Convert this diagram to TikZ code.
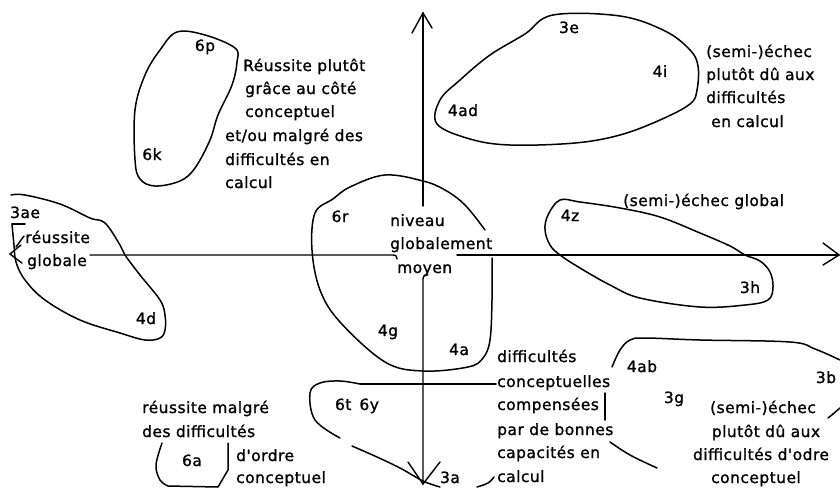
\documentclass[tikz,border=0pt]{standalone}
\usepackage{fontspec}
\newfontfamily\handfont[LetterSpace=3,FakeBold=1.2]{DejaVu Sans}
\begin{document}
\begin{tikzpicture}[x=1pt,y=-1pt,
  sk/.style={line width=1.5pt, line cap=round, line join=round},
  ax/.style={line width=1.4pt, line cap=round},
  txt/.style={font=\handfont\fontsize{15.5}{18}\selectfont, inner sep=0pt, anchor=base west},
  txtc/.style={txt, anchor=base},
  num/.style={txt, anchor=base}]
\useasboundingbox (0,0) rectangle (840,487);

% ---- axes ----
\coordinate (vtop) at (423,13);
\coordinate (vtopend) at (423,206);
\coordinate (vbotstart) at (423,279);
\coordinate (vbot) at (423,484);
\coordinate (hleft) at (10,254);
\coordinate (hl1) at (90,255);
\coordinate (hl2) at (393,255);
\coordinate (hr1) at (457,255);
\coordinate (hright) at (839,255);
\draw[ax] (vtop) -- (vtopend);
\draw[ax] (412,33) -- (vtop) -- (432,28);
\draw[ax] (428,275) .. controls (424,275) .. (vbotstart) -- (vbot);
\draw[ax] (408,462) -- (vbot) -- (440,462);
\draw[ax] (hl1) -- (hl2) .. controls (396,255) .. (397,259);
\draw[ax] (hr1) -- (hright);
\draw[ax] (823,243) -- (hright) -- (823,265);
\draw[ax] (21,245) -- (hleft) -- (22,263);

% ---- blob 6p / 6k ----
\draw[sk] plot[smooth cycle, tension=0.6] coordinates {(177,32) (205,35) (235,48) (237,62) (232,85) (218,115) (210,140) (195,168) (180,181) (155,186) (140,179) (135,160) (135,110) (145,75) (160,50)};

% ---- blob 3e / 4i / 4ad ----
\draw[sk] plot[smooth cycle, tension=0.6] coordinates {(553,15) (620,16) (665,31) (690,50) (698,66) (697,90) (690,104) (660,120) (620,135) (575,143) (510,145) (470,139) (437,124) (440,100) (460,80) (490,55) (525,34)};

% ---- central blob ----
\draw[sk] plot[smooth, tension=0.6] coordinates {(492,258) (492,300) (490,340) (483,358) (468,367) (423,371) (385,362) (340,322) (320,290) (312,250) (315,213) (333,199) (350,187) (385,175) (423,181) (445,190) (465,205) (485,230)};

% ---- blob 6t 6y ----
\draw[sk] (496,384) -- (360,384);
\draw[sk] plot[smooth, tension=0.6] coordinates {(360,384) (340,381) (320,383) (310,393) (315,420) (340,438)};
\draw[sk] plot[smooth, tension=0.6] coordinates {(352,446) (377,457) (400,468) (423,481) (440,487)};
\draw[sk] plot[smooth, tension=0.6] coordinates {(477,487) (488,483) (494,477)};

% ---- left blob 3ae / 4d ----
\draw[sk] (25,224) -- (12,224);
\draw[sk] plot[smooth, tension=0.6] coordinates {(12,224) (14,245) (16,262) (25,280) (45,300) (80,320) (120,333) (145,340) (160,338) (165,330) (165,315) (160,300) (140,275) (125,255) (120,245) (105,223) (90,218) (60,204) (25,195) (11,195)};
\draw[sk] (16,247) -- (24,236);

% ---- blob 4z / 3h ----
\draw[sk] plot[smooth cycle, tension=0.6] coordinates {(560,200) (580,202) (620,208) (660,217) (700,233) (730,246) (745,255) (760,261) (770,272) (773,287) (768,300) (745,305) (700,307) (640,298) (610,285) (580,268) (560,255) (550,245) (545,230) (548,215)};

% ---- blob 4ab / 3b / 3g ----
\draw[sk] plot[smooth, tension=0.6] coordinates {(612,367) (620,350) (630,340) (645,338) (700,340) (790,342) (815,349) (840,360)};
\draw[sk] (828,418) -- (833,414) -- (840,408);
\draw[sk] plot[smooth, tension=0.6] coordinates {(610,442) (630,455) (657,468)};
\draw[sk] (605,393) -- (605,420);

% ---- bracket 6a ----
\draw[sk] plot[smooth, tension=0.6] coordinates {(162,443) (156,465) (160,480) (168,486)};
\draw[sk] (168,486) -- (218,487) -- (228,470) -- (228,443);

% ---- small labels ----
\node[num] (n6p) at (205,51) {6p};
\node[num] (n6k) at (152,160) {6k};
\node[num] (n3e) at (569,33) {3e};
\node[num] (n4i) at (660,77) {4i};
\node[num] (n4ad) at (463,116) {4ad};
\node[num] (n6r) at (340,222) {6r};
\node[num] (n4g) at (388,336) {4g};
\node[num] (n4a) at (459,355) {4a};
\node[txt] (n3ae) at (10,218) {3ae};
\node[num] (n4d) at (146,324) {4d};
\node[num] (n4z) at (570,221) {4z};
\node[num] (n3h) at (750,293) {3h};
\node[num] (n4ab) at (642,372) {4ab};
\node[num] (n3b) at (826,383) {3b};
\node[num] (n3g) at (674,403) {3g};
\node[num] (n6t6y) at (357,410) {6t\hspace{8pt}6y};
\node[num] (n6a) at (192,466) {6a};
\node[num] (n3a) at (450,483) {3a};

% ---- text blocks ----
\node[txt] (a1) at (243,71) {Réussite plutôt};
\node[txt] (a2) at (245,94) {grâce au côté};
\node[txt] (a3) at (245,117) {conceptuel};
\node[txt] (a4) at (225,141) {et/ou malgré des};
\node[txt] (a5) at (225,165) {difficultés en};
\node[txt] (a6) at (225,188) {calcul};

\node[txt] (b1) at (706,57) {(semi-)échec};
\node[txt] (b2) at (706,80) {plutôt dû aux};
\node[txt] (b3) at (706,103) {difficultés};
\node[txt] (b4) at (711,127) {en calcul};

\node[txt] (c1) at (390,226) {niveau};
\node[txt] (c2) at (390,249) {globalement};
\node[txt] (c3) at (397,273) {moyen};

\node[txt] (d1) at (25,243) {réussite};
\node[txt] (d2) at (27,266) {globale};

\node[txt] (e1) at (623,206) {(semi-)échec global};

\node[txt] (f1) at (497,362) {difficultés};
\node[txt] (f2) at (497,387) {conceptuelles};
\node[txt] (f3) at (497,410) {compensées};
\node[txt] (f4) at (497,435) {par de bonnes};
\node[txt] (f5) at (497,458) {capacités en};
\node[txt] (f6) at (497,482) {calcul};

\node[txtc] (g1) at (763,413) {(semi-)échec};
\node[txtc] (g2) at (766,437) {plutôt dû aux};
\node[txtc] (g3) at (761,460) {difficultés d'odre};
\node[txtc] (g4) at (756,483) {conceptuel};

\node[txt] (h1) at (142,413) {réussite malgré};
\node[txt] (h2) at (142,437) {des difficultés};
\node[txt] (h3) at (236,461) {d'ordre};
\node[txt] (h4) at (236,483) {conceptuel};
\end{tikzpicture}
\end{document}
